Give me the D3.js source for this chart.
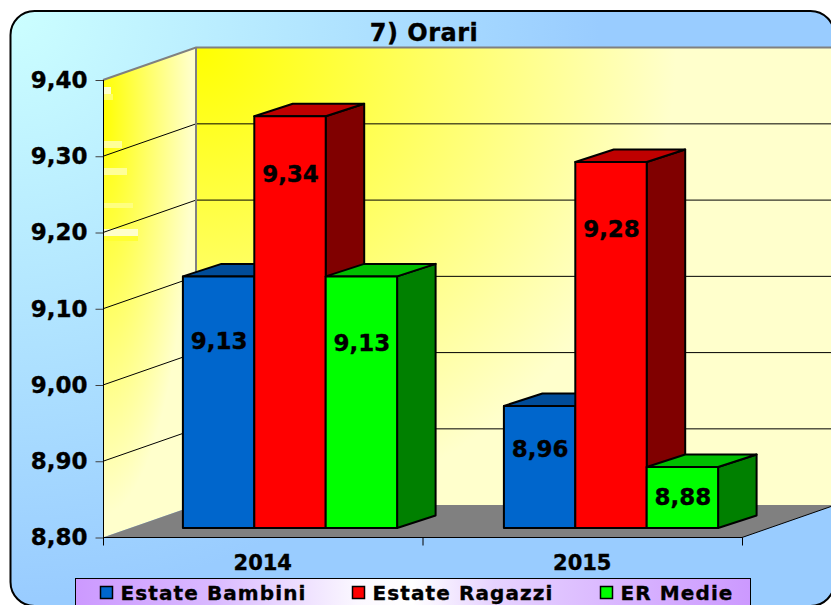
<!DOCTYPE html>
<html>
<head>
<meta charset="utf-8">
<script src="https://cdn.jsdelivr.net/npm/d3@7"></script>
<style>
html, body { margin: 0; padding: 0; background: #fff; overflow: hidden; }
svg { display: block; }
text { font-family: "DejaVu Sans", Verdana, sans-serif; font-weight: bold; fill: #000; stroke: #000; stroke-width: 0.35px; }
</style>
</head>
<body>
<script>
const categories = ["2014", "2015"];
const seriesNames = ["Estate Bambini", "Estate Ragazzi", "ER Medie"];
const valuesBambini = [9.13, 8.96];
const valuesRagazzi = [9.34, 9.28];
const valuesMedie = [9.13, 8.88];
const yTicks = [8.8, 8.9, 9.0, 9.1, 9.2, 9.3, 9.4];
const barColors = ["#0066cc", "#ff0000", "#00ff00"];
const topColors = ["#004c99", "#bf0000", "#00bf00"];
const sideColors = ["#003366", "#800000", "#008000"];

const width = 831;
const height = 605;
const label = v => d3.format(".2f")(v).replace(".", ",");

// front edge of the box
const x = d3.scaleBand().domain(categories).range([103, 742]);
const y = d3.scaleLinear().domain([8.8, 9.4]).range([537.5, 80]);
// the bars stand a bit further in, on their own band scale
const xBars = d3.scaleBand().domain(categories).range([129.5, 771.5]);
const wallDx = 93, wallDy = -32.4;   // depth of the box
const barDy = -9.5;
const depthX = 38.5, depthY = -12.5; // depth of one bar
const barW = 71.4;
const yBar = v => y(v) + barDy;

// the data labels don't sit mid-bar in the original, drop from bar top per series/category
const labelDrop = [[73, 51], [66, 75], [75, 38]];

const svg = d3.select("body").append("svg")
  .attr("width", width)
  .attr("height", height);

const defs = svg.append("defs");
function linear(id, a, b, stops) {
  const g = defs.append("linearGradient").attr("id", id)
    .attr("gradientUnits", "userSpaceOnUse")
    .attr("x1", a[0]).attr("y1", a[1]).attr("x2", b[0]).attr("y2", b[1]);
  stops.forEach(s => g.append("stop").attr("offset", s[0]).attr("stop-color", s[1]));
}
function radial(id, transform, r, from, to) {
  const g = defs.append("radialGradient").attr("id", id)
    .attr("gradientUnits", "userSpaceOnUse")
    .attr("cx", 0).attr("cy", 0).attr("r", r)
    .attr("gradientTransform", transform);
  g.append("stop").attr("offset", 0).attr("stop-color", from);
  g.append("stop").attr("offset", 1).attr("stop-color", to);
}
radial("bg", "translate(10,10)", 590, "#ccffff", "#99ccff");
radial("back", "translate(196,47)", 480, "#ffff00", "#ffffcc");
radial("side", "translate(103,110) scale(1,4.5)", 90, "#ffff00", "#ffffcc");
linear("legend", [75, 0], [750, 0], [[0, "#cc99ff"], [0.2, "#d9b8ff"], [0.42, "#fbf8ff"], [0.5, "#ffffff"], [0.62, "#e6d2ff"], [1, "#cc99ff"]]);

// panel
svg.append("rect")
  .attr("x", 10.5).attr("y", 11)
  .attr("width", 824).attr("height", 595)
  .attr("rx", 24).attr("ry", 24)
  .attr("fill", "url(#bg)")
  .attr("stroke", "#000")
  .attr("stroke-width", 2);

svg.append("text")
  .attr("x", 424).attr("y", 41)
  .attr("text-anchor", "middle")
  .attr("font-size", 24)
  .attr("letter-spacing", 0.5)
  .text("7) Orari");

const x0 = x.range()[0], x1 = x.range()[1];
const yTop = y(9.4), yBot = y(8.8);
const line = pts => d3.line()(pts) + "Z";

// walls
svg.append("path")
  .attr("d", line([[x0, yTop], [x0 + wallDx, yTop + wallDy], [x0 + wallDx, yBot + wallDy], [x0, yBot]]))
  .attr("fill", "url(#side)");
svg.append("rect")
  .attr("x", x0 + wallDx).attr("y", yTop + wallDy)
  .attr("width", width - x0 - wallDx + 10).attr("height", yBot - yTop)
  .attr("fill", "url(#back)");
svg.append("path")
  .attr("d", line([[x0, yBot], [x0 + wallDx, yBot + wallDy], [x1 + wallDx, yBot + wallDy], [x1, yBot]]))
  .attr("fill", "#808080");

// pale streaks on the side wall, left over in the original image
const wallStreaks = [
  [104, 87, 7, 7, "#ffffcc"], [104, 94, 9, 6, "#ffff66"], [104, 141, 18, 7, "#ffff99"],
  [104, 168, 23, 7, "#ffff99"], [104, 203, 29, 5, "#ffff80"],
  [104, 229, 34, 7, "#ffffcc"], [104, 236, 34, 5, "#ffff33"]
];
svg.append("g").selectAll("rect").data(wallStreaks).join("rect")
  .attr("x", d => d[0]).attr("y", d => d[1])
  .attr("width", d => d[2]).attr("height", d => d[3])
  .attr("fill", d => d[4]);

// gridlines on both walls
yTicks.slice(1, -1).forEach(t => {
  svg.append("path")
    .attr("d", d3.line()([[x0, y(t)], [x0 + wallDx, y(t) + wallDy], [width, y(t) + wallDy]]))
    .attr("fill", "none").attr("stroke", "#000").attr("stroke-width", 1);
});

// wall outline
svg.append("path")
  .attr("d", d3.line()([[x0, yTop], [x0 + wallDx, yTop + wallDy], [width, yTop + wallDy]]))
  .attr("fill", "none").attr("stroke", "#808080").attr("stroke-width", 2);
svg.append("line")
  .attr("x1", x0 + wallDx).attr("x2", x0 + wallDx)
  .attr("y1", yTop + wallDy).attr("y2", yBot + wallDy)
  .attr("stroke", "#808080").attr("stroke-width", 2);

// axes
const yAxis = d3.axisLeft(y).tickValues(yTicks).tickFormat(label).tickSize(8).tickPadding(8);
const gy = svg.append("g").attr("transform", `translate(${x0 + 0.5},0)`).call(yAxis);
gy.select(".domain").remove();
gy.selectAll("text").attr("font-size", 23).attr("font-family", null);
gy.selectAll("line").attr("stroke", "#404040");
svg.append("line")
  .attr("x1", x0 + 0.5).attr("x2", x0 + 0.5)
  .attr("y1", yTop).attr("y2", yBot + 8)
  .attr("stroke", "#000");
svg.append("line")
  .attr("x1", x0).attr("x2", x1)
  .attr("y1", yBot).attr("y2", yBot)
  .attr("stroke", "#000");
svg.append("line")
  .attr("x1", x1).attr("x2", x1 + wallDx)
  .attr("y1", yBot).attr("y2", yBot + wallDy)
  .attr("stroke", "#000");
[x0 + x.bandwidth(), x1].forEach(tx => {
  svg.append("line")
    .attr("x1", tx + 0.5).attr("x2", tx + 0.5)
    .attr("y1", yBot).attr("y2", yBot + 8)
    .attr("stroke", "#000");
});
categories.forEach(c => {
  svg.append("text")
    .attr("x", x(c) + x.bandwidth() / 2)
    .attr("y", 570)
    .attr("text-anchor", "middle")
    .attr("font-size", 21)
    .text(c);
});

// bars, left to right so each one covers the side of the previous
const allSeries = [valuesBambini, valuesRagazzi, valuesMedie];
categories.forEach((c, ci) => {
  const start = xBars(c) + xBars.bandwidth() / 2 - barW * 1.5;
  allSeries.forEach((vals, si) => {
    const v = vals[ci];
    const bx = start + si * barW;
    const bt = yBar(v), bb = yBar(8.8);
    const g = svg.append("g").attr("stroke", "#000").attr("stroke-width", 2).attr("stroke-linejoin", "round");
    g.append("path")
      .attr("d", line([[bx + barW, bt], [bx + barW + depthX, bt + depthY], [bx + barW + depthX, bb + depthY], [bx + barW, bb]]))
      .attr("fill", sideColors[si]);
    g.append("path")
      .attr("d", line([[bx, bt], [bx + depthX, bt + depthY], [bx + barW + depthX, bt + depthY], [bx + barW, bt]]))
      .attr("fill", topColors[si]);
    g.append("rect")
      .attr("x", bx).attr("y", bt).attr("width", barW).attr("height", bb - bt)
      .attr("fill", barColors[si]);
  });
  allSeries.forEach((vals, si) => {
    svg.append("text")
      .attr("x", start + si * barW + barW / 2 + 0.5)
      .attr("y", yBar(vals[ci]) + labelDrop[si][ci])
      .attr("text-anchor", "middle")
      .attr("font-size", 23)
      .text(label(vals[ci]));
  });
});

// legend
svg.append("rect")
  .attr("x", 75.5).attr("y", 578.5)
  .attr("width", 675).attr("height", 40)
  .attr("fill", "url(#legend)")
  .attr("stroke", "#000");
const legendX = [100, 352, 600];
seriesNames.forEach((n, i) => {
  svg.append("rect")
    .attr("x", legendX[i] + 0.5).attr("y", 586.5)
    .attr("width", 12).attr("height", 12)
    .attr("fill", barColors[i]).attr("stroke", "#000").attr("stroke-width", 1.5);
  svg.append("text")
    .attr("x", legendX[i] + 20.5).attr("y", 599.5)
    .attr("font-size", 20)
    .attr("letter-spacing", 1.1)
    .text(n);
});
</script>
</body>
</html>
